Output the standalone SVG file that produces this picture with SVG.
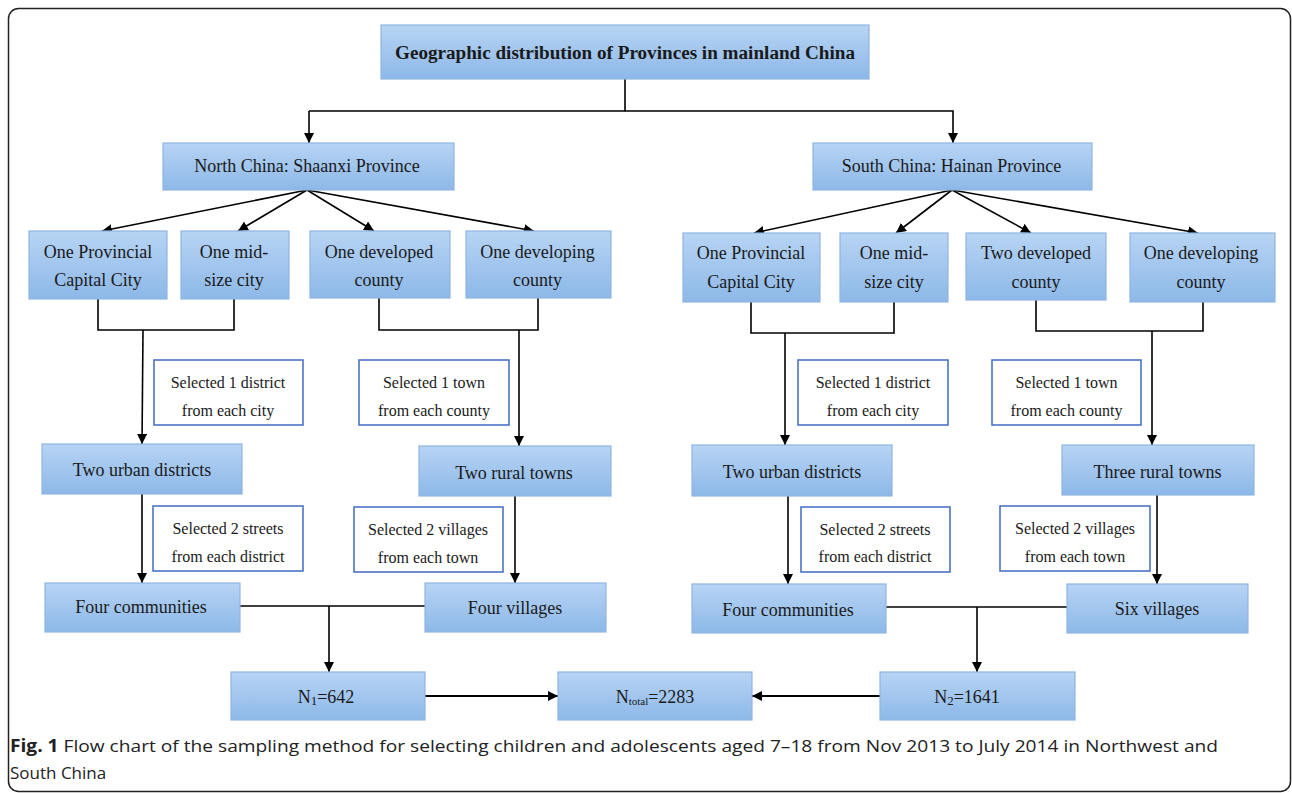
<svg xmlns="http://www.w3.org/2000/svg" width="1292" height="793" viewBox="0 0 1292 793">
<defs>
<linearGradient id="bg" x1="0" y1="0" x2="0" y2="1">
<stop offset="0" stop-color="#b7d4f4"/>
<stop offset="1" stop-color="#8db8e8"/>
</linearGradient>
<marker id="ah" viewBox="0 0 10 10" refX="10" refY="5" markerWidth="10" markerHeight="10" markerUnits="userSpaceOnUse" orient="auto">
<path d="M0,0 L10,5 L0,10 z" fill="#000"/>
</marker>
<style>
.b{fill:url(#bg);stroke:#8fb5e2;stroke-width:1.2}
.s{fill:#fff;stroke:#4d74c9;stroke-width:1.6}
.t{font-family:"Liberation Serif","Times New Roman",serif;font-size:18px;fill:#1a1a1a;text-anchor:middle}
.ts{font-family:"Liberation Serif","Times New Roman",serif;font-size:16px;fill:#1a1a1a;text-anchor:middle}
.c{fill:none;stroke:#000;stroke-width:1.6}
.a{fill:none;stroke:#000;stroke-width:1.6;marker-end:url(#ah)}
.cap{font-family:"Open Sans","DejaVu Sans",sans-serif;font-size:17px;fill:#222}
</style>
</defs>
<rect x="8.5" y="8.5" width="1282" height="783" rx="10" fill="#fff" stroke="#222" stroke-width="1.5"/>

<g id="connectors">
<polyline class="c" points="625,79 625,111 309,111"/>
<polyline class="a" points="309,111 309,143"/>
<polyline class="a" points="625,111 953,111 953,143"/>
<line class="a" x1="307" y1="190" x2="102" y2="231"/>
<line class="a" x1="307" y1="190" x2="238" y2="231"/>
<line class="a" x1="307" y1="190" x2="374" y2="231"/>
<line class="a" x1="307" y1="190" x2="534" y2="231"/>
<line class="a" x1="952" y1="190" x2="754" y2="233"/>
<line class="a" x1="952" y1="190" x2="896" y2="233"/>
<line class="a" x1="952" y1="190" x2="1031" y2="233"/>
<line class="a" x1="952" y1="190" x2="1198" y2="233"/>
<polyline class="c" points="98,299 98,330 234,330 234,299"/>
<line class="a" x1="143" y1="330" x2="142" y2="444"/>
<polyline class="c" points="379,298 379,330 538,330 538,298"/>
<line class="a" x1="519" y1="330" x2="519" y2="446"/>
<polyline class="c" points="751,302 751,333 894,333 894,302"/>
<line class="a" x1="785" y1="333" x2="785" y2="445"/>
<polyline class="c" points="1036,300 1036,331 1203,331 1203,302"/>
<line class="a" x1="1152" y1="331" x2="1152" y2="445"/>
<line class="a" x1="142" y1="494" x2="142" y2="583"/>
<line class="a" x1="515" y1="496" x2="515" y2="583"/>
<line class="a" x1="788" y1="496" x2="788" y2="584"/>
<line class="a" x1="1157" y1="495" x2="1157" y2="584"/>
<line class="c" x1="240" y1="606" x2="425" y2="606"/>
<line class="a" x1="329" y1="606" x2="329" y2="672"/>
<line class="c" x1="886" y1="607" x2="1067" y2="607"/>
<line class="a" x1="977" y1="607" x2="977" y2="672"/>
<line class="a" x1="425" y1="696" x2="558" y2="696" style="stroke-width:2.2"/>
<line class="a" x1="880" y1="696" x2="752" y2="696" style="stroke-width:2.2"/>
</g>

<g id="top"><rect class="b" x="381" y="25" width="488" height="54"/>
<text class="t" x="625" y="59" font-weight="bold" textLength="460" lengthAdjust="spacingAndGlyphs">Geographic distribution of Provinces in mainland China</text></g>

<g id="north"><rect class="b" x="163" y="143" width="291" height="47"/>
<text class="t" x="307" y="172">North China: Shaanxi Province</text></g>
<g id="south"><rect class="b" x="813" y="143" width="279" height="47"/>
<text class="t" x="951.5" y="172">South China: Hainan Province</text></g>

<g id="n-capital"><rect class="b" x="29" y="231" width="138" height="68"/>
<text class="t" x="98" y="258">One Provincial</text><text class="t" x="98" y="286">Capital City</text></g>
<g id="n-mid"><rect class="b" x="181" y="231" width="108" height="68"/>
<text class="t" x="234" y="258">One mid-</text><text class="t" x="234" y="286">size city</text></g>
<g id="n-developed"><rect class="b" x="310" y="231" width="140" height="67"/>
<text class="t" x="379" y="258">One developed</text><text class="t" x="379" y="286">county</text></g>
<g id="n-developing"><rect class="b" x="466" y="231" width="145" height="67"/>
<text class="t" x="537.5" y="258">One developing</text><text class="t" x="537.5" y="286">county</text></g>

<g id="s-capital"><rect class="b" x="683" y="233" width="137" height="69"/>
<text class="t" x="751" y="259">One Provincial</text><text class="t" x="751" y="288">Capital City</text></g>
<g id="s-mid"><rect class="b" x="840" y="233" width="108" height="69"/>
<text class="t" x="894" y="259">One mid-</text><text class="t" x="894" y="288">size city</text></g>
<g id="s-developed"><rect class="b" x="966" y="233" width="140" height="67"/>
<text class="t" x="1036" y="259">Two developed</text><text class="t" x="1036" y="288">county</text></g>
<g id="s-developing"><rect class="b" x="1130" y="233" width="145" height="69"/>
<text class="t" x="1201" y="259">One developing</text><text class="t" x="1201" y="288">county</text></g>

<g id="n-sel1"><rect class="s" x="154" y="360" width="149" height="65"/>
<text class="ts" x="228" y="388">Selected 1 district</text><text class="ts" x="228" y="416">from each city</text></g>
<g id="n-sel2"><rect class="s" x="359" y="360" width="150" height="65"/>
<text class="ts" x="434" y="388">Selected 1 town</text><text class="ts" x="434" y="416">from each county</text></g>
<g id="s-sel1"><rect class="s" x="798" y="360" width="150" height="65"/>
<text class="ts" x="873" y="388">Selected 1 district</text><text class="ts" x="873" y="416">from each city</text></g>
<g id="s-sel2"><rect class="s" x="992" y="360" width="149" height="65"/>
<text class="ts" x="1066.5" y="388">Selected 1 town</text><text class="ts" x="1066.5" y="416">from each county</text></g>

<g id="n-urban"><rect class="b" x="42" y="444" width="200" height="50"/>
<text class="t" x="142" y="476">Two urban districts</text></g>
<g id="n-rural"><rect class="b" x="419" y="446" width="192" height="50"/>
<text class="t" x="514" y="479">Two rural towns</text></g>
<g id="s-urban"><rect class="b" x="692" y="445" width="200" height="51"/>
<text class="t" x="792" y="478">Two urban districts</text></g>
<g id="s-rural"><rect class="b" x="1062" y="445" width="192" height="50"/>
<text class="t" x="1157.5" y="478">Three rural towns</text></g>

<g id="n-sel3"><rect class="s" x="153" y="506" width="150" height="65"/>
<text class="ts" x="228" y="534">Selected 2 streets</text><text class="ts" x="228" y="562">from each district</text></g>
<g id="n-sel4"><rect class="s" x="354" y="507" width="149" height="65"/>
<text class="ts" x="428" y="535">Selected 2 villages</text><text class="ts" x="428" y="563">from each town</text></g>
<g id="s-sel3"><rect class="s" x="801" y="507" width="149" height="65"/>
<text class="ts" x="875" y="535">Selected 2 streets</text><text class="ts" x="875" y="562">from each district</text></g>
<g id="s-sel4"><rect class="s" x="1000" y="506" width="150" height="65"/>
<text class="ts" x="1075" y="534">Selected 2 villages</text><text class="ts" x="1075" y="562">from each town</text></g>

<g id="n-communities"><rect class="b" x="45" y="583" width="195" height="49"/>
<text class="t" x="141" y="613">Four communities</text></g>
<g id="n-villages"><rect class="b" x="425" y="583" width="181" height="49"/>
<text class="t" x="515" y="614">Four villages</text></g>
<g id="s-communities"><rect class="b" x="692" y="584" width="194" height="49"/>
<text class="t" x="788" y="616">Four communities</text></g>
<g id="s-villages"><rect class="b" x="1067" y="584" width="181" height="49"/>
<text class="t" x="1157" y="615">Six villages</text></g>

<g id="n1"><rect class="b" x="231" y="672" width="194" height="48"/>
<text class="t" x="326" y="703">N<tspan font-size="13" dy="2">1</tspan><tspan dy="-2">=642</tspan></text></g>
<g id="ntotal"><rect class="b" x="558" y="672" width="194" height="48"/>
<text class="t" x="655" y="703">N<tspan font-size="11" dy="2">total</tspan><tspan dy="-2">=2283</tspan></text></g>
<g id="n2"><rect class="b" x="880" y="672" width="195" height="48"/>
<text class="t" x="967" y="703">N<tspan font-size="13" dy="2">2</tspan><tspan dy="-2">=1641</tspan></text></g>

<text class="cap" x="10" y="752" textLength="1208" lengthAdjust="spacingAndGlyphs"><tspan font-weight="bold">Fig. 1</tspan> Flow chart of the sampling method for selecting children and adolescents aged 7–18 from Nov 2013 to July 2014 in Northwest and</text>
<text class="cap" x="10" y="779">South China</text>
</svg>
